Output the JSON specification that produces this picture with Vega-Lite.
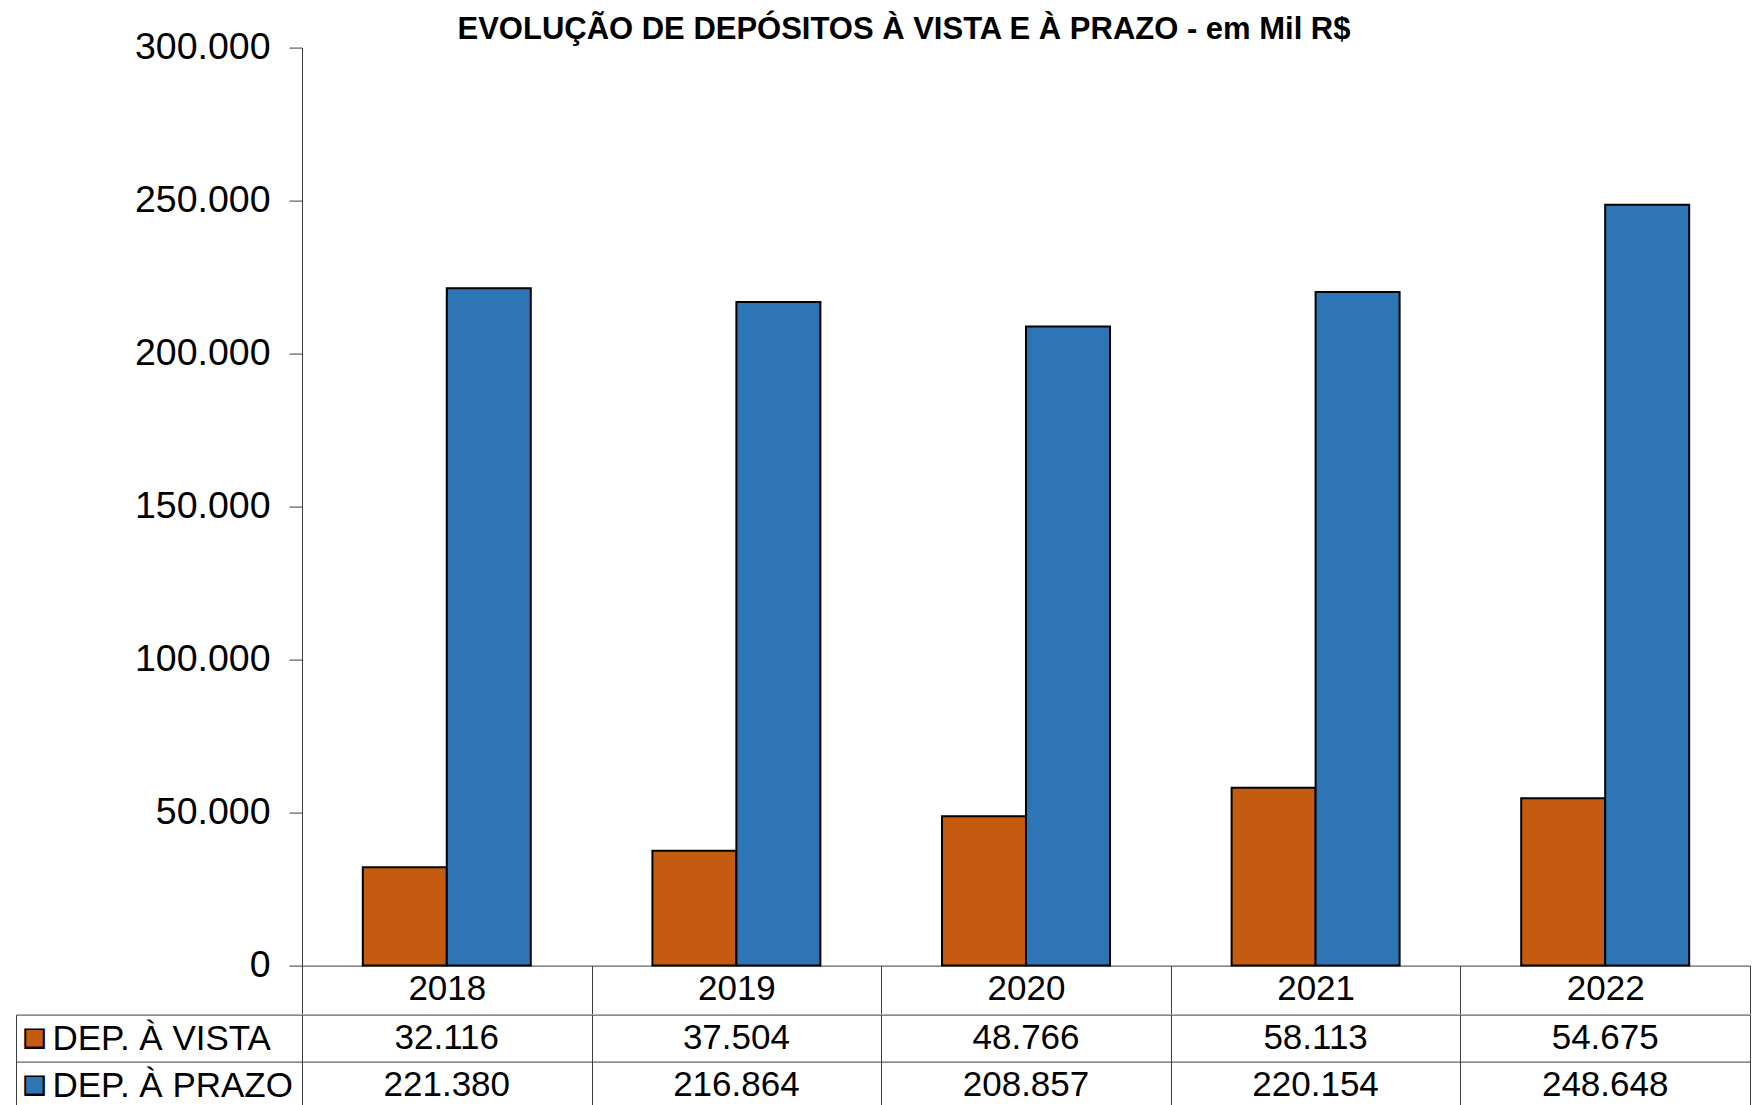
{
  "$schema": "https://vega.github.io/schema/vega-lite/v6.json",
  "background": "white",
  "padding": {"left": 15, "top": 13.6, "right": 3, "bottom": 0},
  "config": {
    "locale": {"number": {"decimal": ",", "thousands": ".", "grouping": [3], "currency": ["R$ ", ""]}},
    "font": "Liberation Sans",
    "view": {"stroke": null},
    "concat": {"spacing": 0},
    "axis": {"labelFont": "Liberation Sans", "labelColor": "black", "labelLimit": 0}
  },
  "title": {
    "text": "EVOLUÇÃO DE DEPÓSITOS À VISTA E À PRAZO - em Mil R$",
    "font": "Liberation Sans",
    "fontSize": 31,
    "fontWeight": "bold",
    "color": "black",
    "anchor": "middle",
    "frame": "bounds",
    "dx": 21,
    "offset": -17.6
  },
  "datasets": {
    "dep": [
      {"ano": "2018", "serie": "DEP. À VISTA", "valor": 32116},
      {"ano": "2018", "serie": "DEP. À PRAZO", "valor": 221380},
      {"ano": "2019", "serie": "DEP. À VISTA", "valor": 37504},
      {"ano": "2019", "serie": "DEP. À PRAZO", "valor": 216864},
      {"ano": "2020", "serie": "DEP. À VISTA", "valor": 48766},
      {"ano": "2020", "serie": "DEP. À PRAZO", "valor": 208857},
      {"ano": "2021", "serie": "DEP. À VISTA", "valor": 58113},
      {"ano": "2021", "serie": "DEP. À PRAZO", "valor": 220154},
      {"ano": "2022", "serie": "DEP. À VISTA", "valor": 54675},
      {"ano": "2022", "serie": "DEP. À PRAZO", "valor": 248648}
    ]
  },
  "spacing": -21,
  "vconcat": [
    {
      "width": 1448,
      "height": 918,
      "data": {"name": "dep"},
      "mark": {"type": "bar", "stroke": "black", "strokeWidth": 2},
      "encoding": {
        "x": {
          "field": "ano", "type": "ordinal",
          "scale": {"paddingInner": 0, "paddingOuter": 0},
          "axis": {
            "title": null, "labelAngle": 0, "labelFontSize": 35,
            "tickBand": "extent", "tickSize": 48, "tickColor": "#3c3c3c",
            "domainColor": "#3c3c3c", "labelPadding": -25, "labelBaseline": "middle"
          }
        },
        "xOffset": {
          "field": "serie", "type": "nominal",
          "scale": {"domain": ["DEP. À VISTA", "DEP. À PRAZO"], "paddingInner": 0, "paddingOuter": 0.724}
        },
        "y": {
          "field": "valor", "type": "quantitative",
          "scale": {"domain": [0, 300000], "nice": false},
          "axis": {
            "title": null, "values": [0, 50000, 100000, 150000, 200000, 250000, 300000],
            "format": ",d", "labelFontSize": 37.5, "tickSize": 13, "labelPadding": 19,
            "grid": false, "domainColor": "#3c3c3c", "tickColor": "#3c3c3c"
          }
        },
        "color": {
          "field": "serie", "type": "nominal",
          "scale": {"domain": ["DEP. À VISTA", "DEP. À PRAZO"], "range": ["#C55A11", "#2E75B6"]},
          "legend": null
        }
      }
    },
    {
      "width": 1448,
      "height": 94,
      "data": {"name": "dep"},
      "layer": [
        {
          "mark": {"type": "text", "fontSize": 35, "color": "black", "baseline": "middle", "font": "Liberation Sans"},
          "encoding": {
            "x": {
              "field": "ano", "type": "ordinal",
              "scale": {"paddingInner": 0, "paddingOuter": 0},
              "axis": {
                "title": null, "labels": false, "ticks": false, "domain": false,
                "grid": true, "tickBand": "extent", "gridColor": "#3c3c3c", "gridOpacity": 1
              }
            },
            "y": {
              "field": "serie", "type": "nominal",
              "scale": {"domain": ["DEP. À VISTA", "DEP. À PRAZO"], "paddingInner": 0, "paddingOuter": 0},
              "axis": {
                "title": null, "orient": "left", "domain": false, "ticks": true, "tickSize": 286,
                "tickBand": "extent", "tickColor": "#3c3c3c", "grid": true, "gridColor": "#3c3c3c",
                "gridOpacity": 1, "labelAlign": "left", "labelPadding": -36, "labelFontSize": 35,
                "labelBaseline": "middle", "labelLimit": 0
              }
            },
            "text": {"field": "valor", "type": "quantitative", "format": ",d"}
          }
        },
        {
          "mark": {"type": "text", "text": ""},
          "encoding": {
            "y": {
              "field": "serie", "type": "nominal",
              "scale": {"domain": ["DEP. À VISTA", "DEP. À PRAZO"], "paddingInner": 0, "paddingOuter": 0},
              "axis": {
                "title": null, "orient": "left", "offset": 286, "domain": true, "domainColor": "#3c3c3c",
                "ticks": false, "tickSize": 0, "grid": false, "labelExpr": "'■'", "labelFont": "DejaVu Sans",
                "labelFontSize": 27, "labelAlign": "center", "labelPadding": -18, "labelBaseline": "middle",
                "labelColor": "black"
              }
            }
          }
        },
        {
          "mark": {"type": "text", "text": ""},
          "encoding": {
            "y": {
              "field": "serie", "type": "nominal",
              "scale": {"domain": ["DEP. À VISTA", "DEP. À PRAZO"], "paddingInner": 0, "paddingOuter": 0},
              "axis": {
                "title": null, "orient": "left", "offset": 286, "domain": false,
                "ticks": false, "tickSize": 0, "grid": false, "labelExpr": "'■'", "labelFont": "DejaVu Sans",
                "labelFontSize": 21.5, "labelAlign": "center", "labelPadding": -18, "labelBaseline": "middle",
                "labelColor": {"condition": {"test": "datum.value === 'DEP. À VISTA'", "value": "#C55A11"}, "value": "#2E75B6"}
              }
            }
          }
        }
      ],
      "resolve": {"axis": {"y": "independent"}}
    }
  ]
}
